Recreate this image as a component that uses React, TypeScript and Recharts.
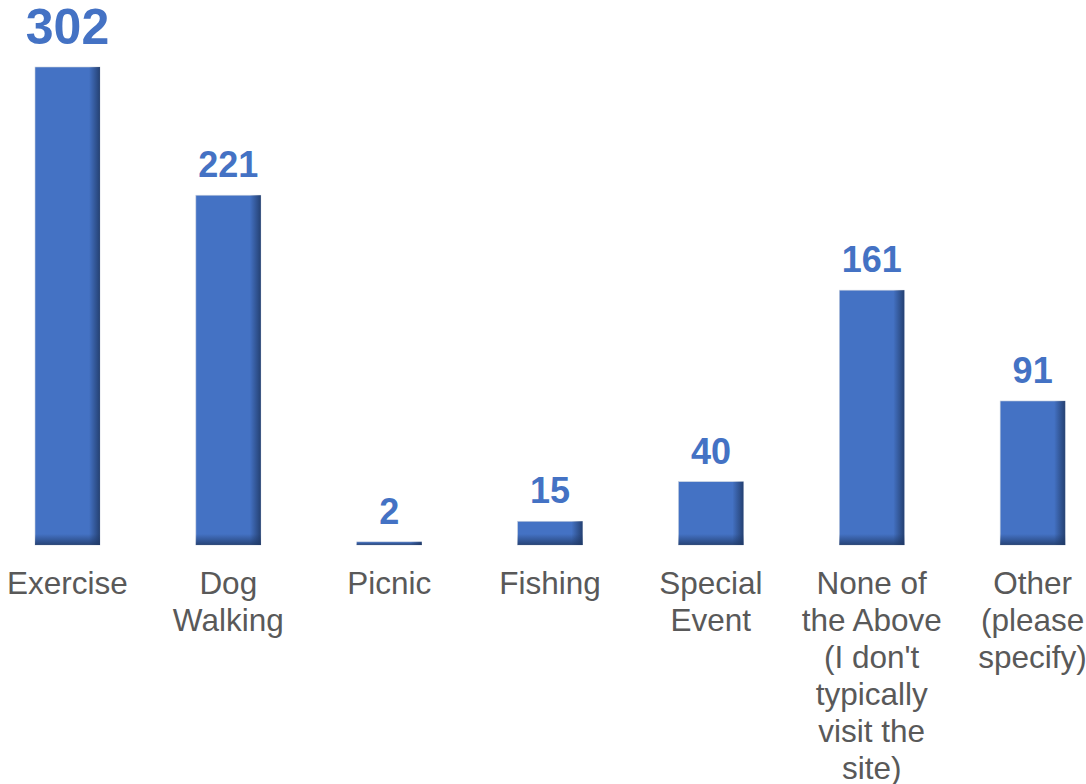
import React from "react";
import { BarChart, Bar, XAxis, YAxis, LabelList } from "recharts";

const categories = [
  "Exercise",
  "Dog Walking",
  "Picnic",
  "Fishing",
  "Special Event",
  "None of the Above (I don't typically visit the site)",
  "Other (please specify)",
];
const counts = [302, 221, 2, 15, 40, 161, 91];
const tickLines: string[][] = [
  ["Exercise"],
  ["Dog", "Walking"],
  ["Picnic"],
  ["Fishing"],
  ["Special", "Event"],
  ["None of", "the Above", "(I don't", "typically", "visit the", "site)"],
  ["Other", "(please", "specify)"],
];

const data = categories.map((name, i) => ({ name, value: counts[i] }));
const maxVal = Math.max(...counts);

const FONT = "'Liberation Sans', Arial, sans-serif";
const BLUE = "#4472C4";

const BarShape = (props: any) => {
  const { x, y, width, height } = props;
  if (height <= 0) return null;
  const rw = Math.min(11, width);
  const bh = Math.min(11, height);
  return (
    <g>
      <rect x={x} y={y} width={width} height={height} fill={BLUE} stroke="#c9d1de" strokeWidth={0.6} />
      <rect x={x + width - rw} y={y} width={rw} height={height} fill="url(#shadeR)" />
      <rect x={x} y={y + height - bh} width={width} height={bh} fill="url(#shadeB)" />
    </g>
  );
};

const Tick = (props: any) => {
  const { x, y, payload } = props;
  const idx = categories.indexOf(payload.value);
  const lines = idx >= 0 ? tickLines[idx] : [String(payload.value)];
  return (
    <text x={x} y={y} textAnchor="middle" fill="#595959" fontFamily={FONT} fontSize={31.5}>
      {lines.map((l, i) => (
        <tspan key={i} x={x} dy={i === 0 ? 49 : 37}>
          {l}
        </tspan>
      ))}
    </text>
  );
};

const ValueLabel = (props: any) => {
  const { x, y, width, value } = props;
  const big = value === maxVal;
  return (
    <text
      x={x + width / 2}
      y={y - (big ? 23 : 18)}
      textAnchor="middle"
      fill={BLUE}
      fontFamily={FONT}
      fontWeight="bold"
      fontSize={big ? 50 : 36}
    >
      {value}
    </text>
  );
};

export default function App() {
  return (
    <div style={{ position: "absolute", left: 0, top: 0, width: 1086, height: 784, overflow: "hidden", background: "#fff" }}>
      <div style={{ position: "absolute", left: -13, top: 0 }}>
        <BarChart width={1126} height={784} data={data} margin={{ top: 67, right: 0, bottom: 0, left: 0 }}>
          <defs>
            <linearGradient id="shadeR" x1="0" y1="0" x2="1" y2="0">
              <stop offset="0%" stopColor="#1F3864" stopOpacity={0} />
              <stop offset="100%" stopColor="#1F3864" stopOpacity={0.85} />
            </linearGradient>
            <linearGradient id="shadeB" x1="0" y1="0" x2="0" y2="1">
              <stop offset="0%" stopColor="#1F3864" stopOpacity={0} />
              <stop offset="100%" stopColor="#1F3864" stopOpacity={0.8} />
            </linearGradient>
          </defs>
          <XAxis
            dataKey="name"
            axisLine={false}
            tickLine={false}
            tickSize={0}
            tickMargin={0}
            interval={0}
            height={239}
            tick={<Tick />}
          />
          <YAxis hide domain={[0, maxVal]} width={0} />
          <Bar dataKey="value" barSize={65} shape={<BarShape />} isAnimationActive={false}>
            <LabelList dataKey="value" content={<ValueLabel />} />
          </Bar>
        </BarChart>
      </div>
    </div>
  );
}
